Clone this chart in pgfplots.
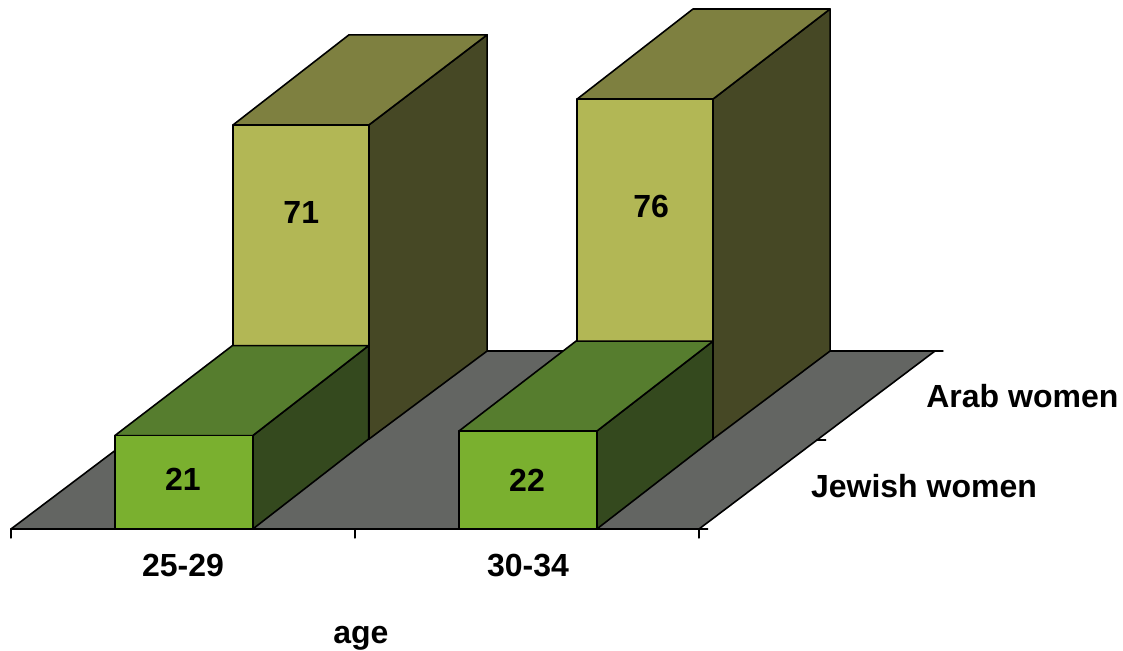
\documentclass[border=0pt]{standalone}
\usepackage{pgfplots}
\pgfplotsset{compat=1.18}
\usepackage{fontspec}
\setmainfont{Liberation Sans}
\definecolor{floorc}{HTML}{636562}
\definecolor{af}{HTML}{7AB02F}
\definecolor{at}{HTML}{567D2E}
\definecolor{as}{HTML}{34491E}
\definecolor{bf}{HTML}{B2B755}
\definecolor{bt}{HTML}{7E8040}
\definecolor{bs}{HTML}{464825}
% x-front-left, x-front-right, x-back-left, x-back-right, y-front, y-back, z at the back of the top, value, colour prefix
\newcommand{\threedbar}[9]{%
  \addplot3[fill=#9s,draw=black,ln] coordinates {(#2,#5,0) (#4,#6,0) (#4,#6,#7) (#2,#5,#8) (#2,#5,0)};
  \addplot3[fill=#9t,draw=black,ln] coordinates {(#1,#5,#8) (#2,#5,#8) (#4,#6,#7) (#3,#6,#7) (#1,#5,#8)};
  \addplot3[fill=#9f,draw=black,ln] coordinates {(#1,#5,0) (#2,#5,0) (#2,#5,#8) (#1,#5,#8) (#1,#5,0)};
}
\pgfplotsset{ln/.style={line width=1.2pt,line join=round,line cap=round,mark=none,forget plot}}
\tikzset{lab/.style={font=\fontsize{24}{28}\selectfont\bfseries,inner sep=0pt,anchor=center}}
\begin{document}
\begin{tikzpicture}
\useasboundingbox (0,0) rectangle (842.25pt,487.5pt);
\begin{axis}[
  at={(8.25pt,90.75pt)},anchor=origin,
  x={(258pt,0pt)},y={(88.5pt,66.75pt)},z={(0pt,3.3375pt)},
  xmin=0,xmax=2,ymin=0,ymax=2,zmin=0,zmax=80,
  hide axis,clip=false]
% floor
\addplot3[fill=floorc,draw=black,ln] coordinates {(0,0,0) (2,0,0) (2,2,0) (0,2,0) (0,0,0)};
% axis lines and ticks
\addplot3[draw=black,ln] coordinates {(0,0,0) (2.025,0,0)};
\addplot3[draw=black,ln] coordinates {(2,2,0) (2.023,2,0)};
\addplot3[draw=black,ln] coordinates {(2,1,0) (2.025,1,0)};
\addplot3[draw=black,ln] coordinates {(0,0,0) (0,0,-2)};
\addplot3[draw=black,ln] coordinates {(1,0,0) (1,0,-2)};
\addplot3[draw=black,ln] coordinates {(2,0,0) (2,0,-2)};
% Arab women (back row)
\threedbar{0.299}{0.694}{0.2965}{0.698}{1.011}{2}{71.05}{70.6}{b}
\threedbar{1.299}{1.694}{1.2965}{1.695}{1.011}{2}{76.85}{76.4}{b}
% Jewish women (front row)
\threedbar{0.302}{0.703}{0.297}{0.693}{0}{1.011}{21}{21}{a}
\threedbar{1.302}{1.703}{1.2956}{1.694}{0}{1.011}{22}{22}{a}
% value labels
\node[lab] at (axis cs:0.5,0,11.2) {21};
\node[lab] at (axis cs:1.5,0,11) {22};
\node[lab] at (axis cs:0.497,1.011,51) {71};
\node[lab] at (axis cs:1.514,1.011,52.2) {76};
% category labels
\node[lab] at (axis cs:0.5,0,-8.3) {25-29};
\node[lab] at (axis cs:1.503,0,-8.3) {30-34};
\node[lab] at (axis cs:1.017,0,-24.5) {age};
\node[lab] at (axis cs:2.94,0,29.9) {Arab women};
\node[lab] at (axis cs:2.654,0,9.66) {Jewish women};
\end{axis}
\end{tikzpicture}
\end{document}
